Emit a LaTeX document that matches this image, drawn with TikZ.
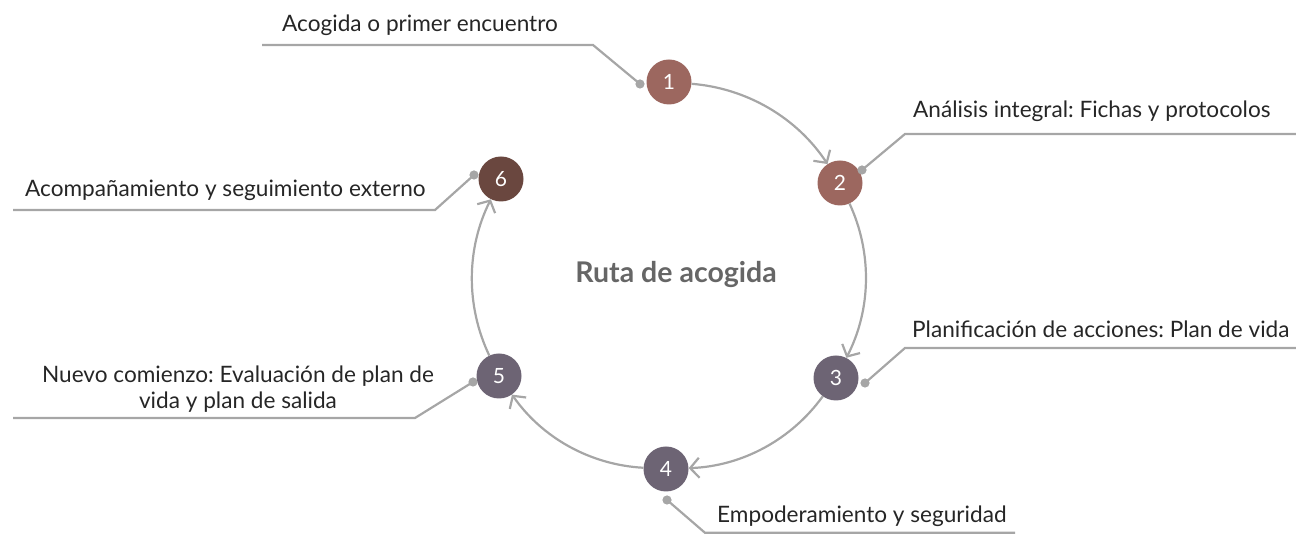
\documentclass[tikz,border=0pt]{standalone}
\usepackage{fontspec}
\setmainfont{Lato}
\usetikzlibrary{arrows.meta}
\definecolor{linegray}{HTML}{A6A6A6}
\definecolor{textdark}{HTML}{262626}
\definecolor{titlegray}{HTML}{666666}
\definecolor{rosebrown}{HTML}{9C675F}
\definecolor{greypurple}{HTML}{6D6474}
\definecolor{darkbrown}{HTML}{6A473F}
\frenchspacing
\begin{document}
\begin{tikzpicture}[x=1pt,y=1pt,
  stepnode/.style={circle, minimum size=45pt, inner sep=0pt, text=white, font=\fontsize{21}{24}\selectfont},
  flow/.style={draw=linegray, line width=2.2pt, -{Straight Barb[length=9pt,width=20pt]}},
  arcbend/.style={bend left=26, looseness=0.9},
  leader/.style={draw=linegray, line width=2.2pt},
  dotmark/.style={fill=linegray},
  lbl/.style={text=textdark, font=\fontsize{22.6}{26}\selectfont, inner sep=0pt}
]
\useasboundingbox (0,0) rectangle (1296,534);

% step circles
\node[stepnode, fill=rosebrown] (n1) at (669,452) {1};
\node[stepnode, fill=rosebrown] (n2) at (840,351) {2};
\node[stepnode, fill=greypurple] (n3) at (836,156) {3};
\node[stepnode, fill=greypurple] (n4) at (666,65) {4};
\node[stepnode, fill=greypurple] (n5) at (499,158) {5};
\node[stepnode, fill=darkbrown] (n6) at (501,355) {6};

% title
\node[text=titlegray, font=\fontsize{28.5}{32}\selectfont\bfseries, anchor=base, inner sep=0pt] (title) at (676,251) {Ruta de acogida};

% cycle arrows
\draw[flow] (n1) to[arcbend] (n2);
\draw[flow] (n2) to[arcbend] (n3);
\draw[flow] (n3) to[arcbend] (n4);
\draw[flow] (n4) to[arcbend] (n5);
\draw[flow] (n5) to[arcbend] (n6);

% leader coordinates
\coordinate (d1) at (640,450); \coordinate (b1) at (593,489); \coordinate (e1) at (262,489);
\coordinate (d2) at (862,364); \coordinate (b2) at (905,400); \coordinate (e2) at (1296,400);
\coordinate (d3) at (865,151); \coordinate (b3) at (905,186); \coordinate (e3) at (1296,186);
\coordinate (d4) at (667,34);  \coordinate (b4) at (705,1.2); \coordinate (e4) at (1015,1.2);
\coordinate (d5) at (473,152); \coordinate (b5) at (415,116); \coordinate (e5) at (13,116);
\coordinate (d6) at (474,359); \coordinate (b6) at (435,324); \coordinate (e6) at (13,324);

\foreach \i in {1,...,6}{
  \draw[leader] (d\i) -- (b\i) -- (e\i);
  \fill[dotmark] (d\i) circle (4.6pt);
}

% labels
\node[lbl, anchor=base west] (t1) at (282,502) {Acogida o primer encuentro};
\node[lbl, anchor=base west] (t2) at (913,416) {Análisis integral: Fichas y protocolos};
\node[lbl, anchor=base west] (t3) at (912,196) {Planificación de acciones: Plan de vida};
\node[lbl, anchor=base west] (t4) at (717,11) {Empoderamiento y seguridad};
\node[lbl, anchor=base west] (t6) at (25,337) {Acompañamiento y seguimiento externo};
\node[lbl, align=center, anchor=north] (t5) at (238,168.5) {Nuevo comienzo: Evaluación de plan de\\vida y plan de salida};
\end{tikzpicture}
\end{document}
